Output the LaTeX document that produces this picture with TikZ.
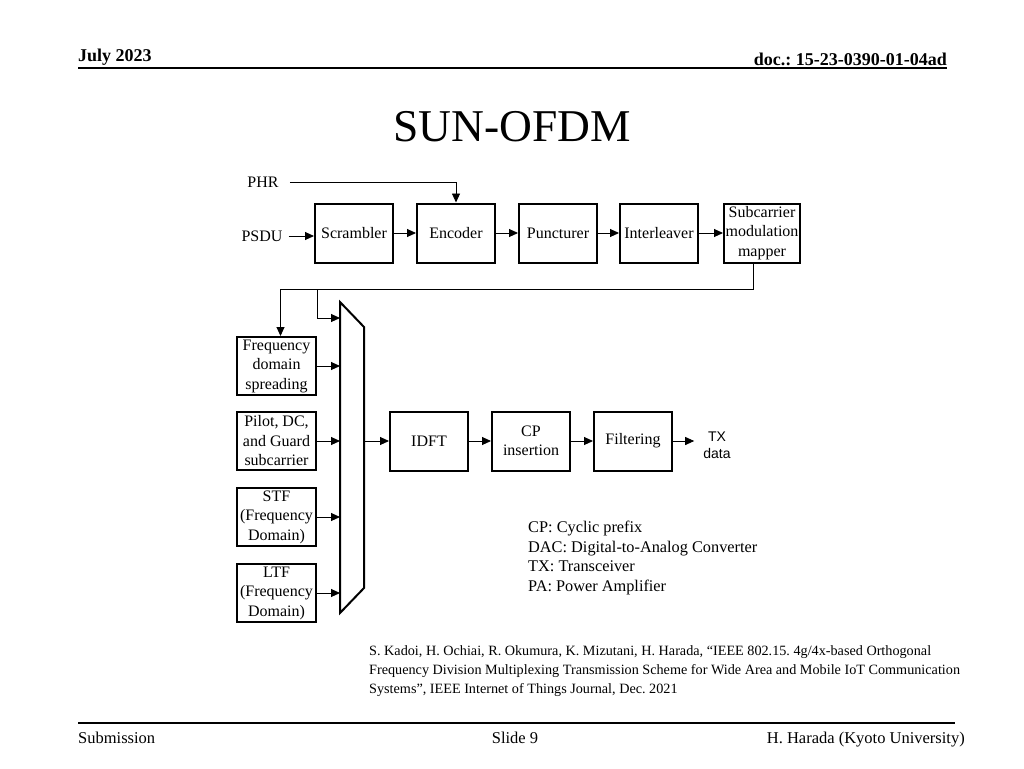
\documentclass[tikz,border=0pt]{standalone}
\usepackage{fontspec}
\setmainfont{Liberation Serif}
\setsansfont{Liberation Sans}
\usetikzlibrary{arrows.meta,positioning}
\frenchspacing

\begin{document}
\begin{tikzpicture}[x=1pt,y=-1pt,
			blk/.style={draw,line width=2pt,minimum width=78pt,minimum height=59pt,inner sep=0pt,align=center,font=\fontsize{16}{19.5}\selectfont},
			lbl/.style={inner sep=0pt,font=\fontsize{16}{19.5}\selectfont},
			flow/.style={-{Triangle[length=9pt,width=8pt]},line width=0.9pt},
			rule/.style={line width=1.6pt}
			]
			\useasboundingbox (0,0) rectangle (1024,768);
			% header and footer
			\node[anchor=base west,inner sep=0pt,font=\bfseries\fontsize{18}{20}\selectfont] (date) at (78,61) {July 2023};
			\node[anchor=base east,inner sep=0pt,font=\bfseries\fontsize{18}{20}\selectfont] (doc) at (947,65) {doc.: 15-23-0390-01-04ad};
			\draw[rule] (78,68) -- (947,68);
			\node[anchor=base,inner sep=0pt,font=\fontsize{45.5}{48}\selectfont] (title) at (512,141) {SUN-OFDM};
			\draw[line width=1.1pt] (78,723) -- (955,723);
			\node[lbl,anchor=base west,font=\fontsize{16.5}{19}\selectfont] (sub) at (78,743) {Submission};
			\node[lbl,anchor=base,font=\fontsize{16.5}{19}\selectfont] (slide) at (515,743) {Slide 9};
			\node[lbl,anchor=base east,font=\fontsize{16.5}{19}\selectfont] (auth) at (965,743) {H. Harada (Kyoto University)};
			% top row
			\node[blk] (scr) at (354,233) {Scrambler};
			\node[blk,right=22pt of scr] (enc) {Encoder};
			\node[blk,right=22pt of enc] (pun) {Puncturer};
			\node[blk,right=21pt of pun] (intl) {Interleaver};
			\node[blk,right=24pt of intl,minimum width=76pt] (map) {Subcarrier\\modulation\\mapper};
			\node[lbl] (psdu) at (262,236) {PSDU};
			\node[lbl] (phr) at (263,182) {PHR};
			\draw[flow] ([xshift=6pt]psdu.east) -- (psdu.east -| scr.west);
			\draw[flow] ([xshift=11pt]phr.east) -| (enc.north);
			\foreach \a/\b in {scr/enc,enc/pun,pun/intl,intl/map}
				\draw[flow] (\a.east) -- (\b.west);
			% left column and mux
			\node[blk,minimum width=79pt,minimum height=58pt] (fds) at (276.5,366) {Frequency\\domain\\spreading};
			\node[blk,minimum width=79pt,minimum height=58pt,below=15pt of fds] (pdg) {Pilot, DC,\\and Guard\\subcarrier};
			\node[blk,minimum width=79pt,minimum height=58pt,below=16pt of pdg] (stf) {STF\\(Frequency\\Domain)};
			\node[blk,minimum width=79pt,minimum height=58pt,below=16pt of stf] (ltf) {LTF\\(Frequency\\Domain)};
			\node[minimum width=24pt,minimum height=311pt,inner sep=0pt,outer sep=0pt] (mux) at (352,457.5) {};
			\draw[line width=2pt] (mux.north west) -- ([yshift=-25pt]mux.north east) -- ([yshift=25pt]mux.south east) -- (mux.south west) -- cycle;
			\coordinate (tap) at ([xshift=-9pt]map.south);
			\coordinate (br) at (317,289);
			\draw[flow] (tap) -- ++(0,26) -| ([xshift=4pt]fds.north);
			\draw[flow] (br) |- (mux.west |- 0,318);
			\foreach \b in {fds,pdg,stf,ltf}
				\draw[flow] (\b.east) -- (\b.east -| mux.west);
			% bottom row
			\node[blk] (idft) at (429,441) {IDFT};
			\node[blk,right=22pt of idft] (cp) {CP\\insertion};
			\node[blk,right=22pt of cp] (filt) {Filtering};
			\node[inner sep=0pt,align=center,font=\sffamily\fontsize{14}{17}\selectfont] (tx) at (717,445) {TX\\data};
			\draw[flow] (mux.east |- idft.west) -- (idft.west);
			\draw[flow] (idft) -- (cp);
			\draw[flow] (cp) -- (filt);
			\draw[flow] (filt.east) -- ([xshift=-9pt]tx.west |- filt.east);
			% notes
			\node[lbl,anchor=north west,align=left,font=\fontsize{16.3}{19.6}\selectfont] (notes) at (528,521) {CP: Cyclic prefix\\DAC: Digital-to-Analog Converter\\TX: Transceiver\\PA: Power Amplifier};
			\node[lbl,anchor=north west,align=left,font=\fontsize{14.2}{19}\selectfont] (ref) at (369,645) {S. Kadoi, H. Ochiai, R. Okumura, K. Mizutani, H. Harada, ``IEEE 802.15. 4g/4x-based Orthogonal\\Frequency Division Multiplexing Transmission Scheme for Wide Area and Mobile IoT Communication\\Systems'', IEEE Internet of Things Journal, Dec. 2021};
		\end{tikzpicture}
\end{document}
